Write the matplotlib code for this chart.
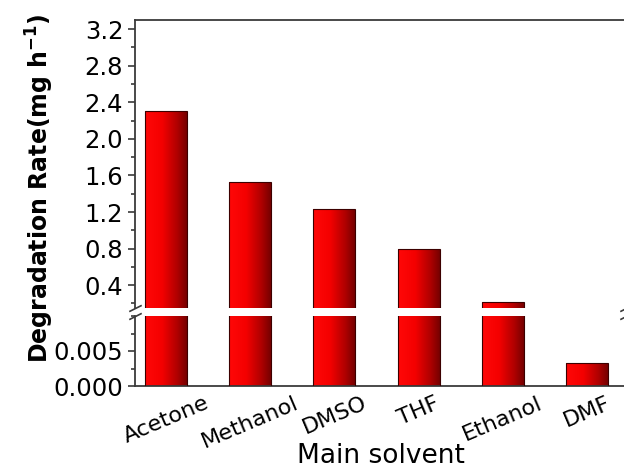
"""
Degradation rate by main solvent, drawn on a broken y axis so the
large rates and the very small DMF rate can share one figure.
"""

import matplotlib

matplotlib.use("Agg")

import matplotlib.pyplot as plt
import numpy as np
from matplotlib.colors import LinearSegmentedColormap
from matplotlib.ticker import MultipleLocator

OUT_FILE = "out.png"

solvents = ["Acetone", "Methanol", "DMSO", "THF", "Ethanol", "DMF"]
rates = [2.30, 1.53, 1.23, 0.79, 0.22, 0.0033]

upper_limits = (0.15, 3.30)
lower_limits = (0.0, 0.010)
upper_ticks = [0.4, 0.8, 1.2, 1.6, 2.0, 2.4, 2.8, 3.2]
lower_ticks = [0.000, 0.005]

plt.rcParams["font.family"] = "DejaVu Sans"
plt.rcParams["mathtext.fontset"] = "dejavusans"

BAR_CMAP = LinearSegmentedColormap.from_list(
    "bar_red",
    [(0.0, "#ff0808"), (0.4, "#f40000"), (0.75, "#b00000"), (1.0, "#700000")],
)
AXIS_COLOR = "#3a3a3a"


def draw_bars(ax, x, values):
    """Bars with a left-to-right red shading, clipped to each bar outline."""
    bars = ax.bar(x, values, width=0.5, facecolor="none",
                  edgecolor="#3c0000", linewidth=0.8, zorder=3)
    shade = np.linspace(0, 1, 256).reshape(1, -1)
    for bar in bars:
        x0, y0 = bar.get_x(), bar.get_y()
        extent = (x0, x0 + bar.get_width(), y0, y0 + bar.get_height())
        img = ax.imshow(shade, cmap=BAR_CMAP, aspect="auto", extent=extent,
                        interpolation="bilinear", zorder=2)
        # clip to the bar outline but keep the axes clip box as well
        img.set_clip_path(bar.get_path(), bar.get_transform())
    return bars


def style_axis(ax, ticks, minor_step, labels_fmt):
    ax.set_yticks(ticks)
    ax.yaxis.set_minor_locator(MultipleLocator(minor_step))
    ax.set_yticklabels([labels_fmt.format(t) for t in ticks])
    ax.tick_params(axis="y", which="major", direction="out", length=5,
                   width=1.2, pad=3.5, labelsize=17.5)
    ax.tick_params(axis="y", which="minor", direction="out", length=3,
                   width=1.2)
    ax.tick_params(axis="y", which="both", colors=AXIS_COLOR,
                   labelcolor="black")
    for side in ("left", "right", "top", "bottom"):
        ax.spines[side].set_color(AXIS_COLOR)
        ax.spines[side].set_linewidth(1.3)


def main() -> None:
    fig = plt.figure(figsize=(6.24, 4.71), dpi=100)
    left, right = 135 / 624, 626 / 624
    ax_top = fig.add_axes([left, 1 - 308 / 471, right - left, 288 / 471])
    ax_bot = fig.add_axes([left, 1 - 386 / 471, right - left, 70 / 471])

    x = np.arange(len(solvents))
    for ax in (ax_top, ax_bot):
        draw_bars(ax, x, rates)
        ax.set_xlim(-0.369, 5.464)

    ax_top.set_ylim(*upper_limits)
    ax_bot.set_ylim(*lower_limits)

    style_axis(ax_top, upper_ticks, 0.2, "{:.1f}")
    style_axis(ax_bot, lower_ticks, 0.0025, "{:.3f}")

    ax_top.spines["bottom"].set_visible(False)
    ax_bot.spines["top"].set_visible(False)
    ax_top.tick_params(axis="x", bottom=False, labelbottom=False)

    ax_bot.set_xticks(x)
    ax_bot.set_xticklabels(solvents, rotation=23, ha="center",
                           rotation_mode="default")
    ax_bot.tick_params(axis="x", length=0, pad=5, labelsize=16)
    ax_bot.set_xlabel("Main solvent", fontsize=19, labelpad=-6)

    # diagonal "//" marks where the y axis is cut
    mark = dict(marker=[(-1, -0.5), (1, 0.5)], markersize=9, linestyle="none",
                color=AXIS_COLOR, mec=AXIS_COLOR, mew=1.2, clip_on=False)
    ax_top.plot([0, 1], [0, 0], transform=ax_top.transAxes, **mark)
    ax_bot.plot([0, 1], [1, 1], transform=ax_bot.transAxes, **mark)

    fig.text(40 / 624, 1 - 188 / 471,
             r"Degradation Rate(mg h$^{\mathbf{-1}}$)",
             rotation=90, ha="center", va="center",
             fontsize=17, fontweight="bold")

    fig.savefig(OUT_FILE, dpi=100, facecolor="white")
    plt.close(fig)


if __name__ == "__main__":
    main()
